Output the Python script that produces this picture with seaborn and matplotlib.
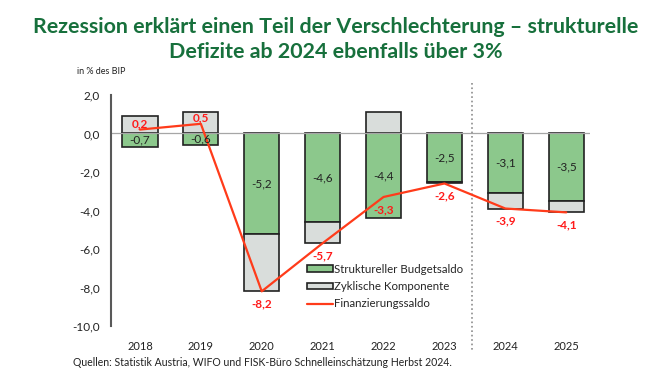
import numpy as np
import pandas as pd
import matplotlib.pyplot as plt
import seaborn as sns
from matplotlib.patches import Patch
from matplotlib.lines import Line2D

sns.set_theme(style="white")
plt.rcParams['font.family'] = ['Lato', 'DejaVu Sans']

# --- Daten (in % des BIP) ---
jahre = ['2018', '2019', '2020', '2021', '2022', '2023', '2024', '2025']
strukturell = [-0.7, -0.6, -5.2, -4.6, -4.4, -2.5, -3.1, -3.5]
zyklisch = [0.9, 1.1, -3.0, -1.1, 1.1, -0.1, -0.8, -0.6]
finanzierungssaldo = [0.2, 0.5, -8.2, -5.7, -3.3, -2.6, -3.9, -4.1]
y_ticks = [2, 0, -2, -4, -6, -8, -10]

gruen = '#8CC88C'
grau = '#D9DDDB'
rot = '#FF3B1A'

df = pd.DataFrame({'jahr': jahre, 'strukturell': strukturell, 'zyklisch': zyklisch,
                   'saldo': finanzierungssaldo})
# zyklische Komponente: positiv ab 0, negativ unter dem strukturellen Saldo
df['zyk_basis'] = np.where(df['zyklisch'] < 0, df['strukturell'], 0.0)

fig = plt.figure(figsize=(6.72, 3.89), dpi=100)
ax = fig.add_axes([0.165, 0.162, 0.713, 0.594])

sns.barplot(data=df, x='jahr', y='strukturell', color=gruen, width=0.58,
            edgecolor='#222222', linewidth=1.2, saturation=1, ax=ax)
sns.barplot(data=df, x='jahr', y='zyklisch', bottom=df['zyk_basis'], color=grau,
            width=0.58, edgecolor='#222222', linewidth=1.2, saturation=1, ax=ax)

ax.axhline(0, color='#a6a6a6', lw=0.9, zorder=1)

sns.lineplot(x=np.arange(len(jahre)), y=df['saldo'], color=rot, lw=1.6, ax=ax, zorder=5)

# Beschriftungen
for i, (s, f) in enumerate(zip(strukturell, finanzierungssaldo)):
    ax.text(i, s / 2, f"{s:.1f}".replace('.', ','), ha='center', va='center',
            fontsize=8.5, color='#222222', zorder=6)
    dy = 0.3 if f > 0 else -0.65
    ax.text(i, f + dy, f"{f:.1f}".replace('.', ','), ha='center', va='center',
            fontsize=8.5, color='#FF1A1A', fontweight='bold', zorder=6)

# Trennlinie Prognose
ax.plot([5.45, 5.45], [2.6, -11.3], ls=':', color='#8c8c8c', lw=1.2, clip_on=False)

ax.set_xlim(-0.477, 7.39)
ax.set_ylim(-10, 2)
ax.set_yticks(y_ticks)
ax.set_yticklabels([f"{v:.1f}".replace('.', ',') for v in y_ticks])
ax.set_xlabel('')
ax.set_ylabel('')
ax.tick_params(axis='y', length=0, pad=8, labelsize=8.5, labelcolor='#222222')
ax.tick_params(axis='x', length=0, pad=11, labelsize=8, labelcolor='#222222')
for side in ['top', 'right', 'bottom']:
    ax.spines[side].set_visible(False)
ax.spines['left'].set_color('#595959')
ax.spines['left'].set_linewidth(1.5)

handles = [Patch(facecolor=gruen, edgecolor='#222222', lw=1.2),
           Patch(facecolor=grau, edgecolor='#222222', lw=1.2),
           Line2D([0], [0], color=rot, lw=1.6)]
labels = ['Struktureller Budgetsaldo', 'Zyklische Komponente', 'Finanzierungssaldo']
ax.legend(handles, labels, loc='upper left', bbox_to_anchor=(0.4, 0.29), frameon=False,
          fontsize=8.3, handlelength=2.2, handleheight=0.5, handletextpad=0.1,
          labelspacing=0.55, borderaxespad=0)

fig.text(0.5, 0.93, 'Rezession erklärt einen Teil der Verschlechterung – strukturelle',
         ha='center', va='center', fontsize=15.4, fontweight='bold', color='#17703C')
fig.text(0.5, 0.866, 'Defizite ab 2024 ebenfalls über 3%',
         ha='center', va='center', fontsize=15.4, fontweight='bold', color='#17703C')
fig.text(0.115, 0.815, 'in % des BIP', ha='left', va='center', fontsize=6.5, color='#222222')
fig.text(0.108, 0.067, 'Quellen: Statistik Austria, WIFO und FISK-Büro Schnelleinschätzung Herbst 2024.',
         ha='left', va='center', fontsize=7.6, color='#222222')

plt.savefig('out.png', dpi=100)
